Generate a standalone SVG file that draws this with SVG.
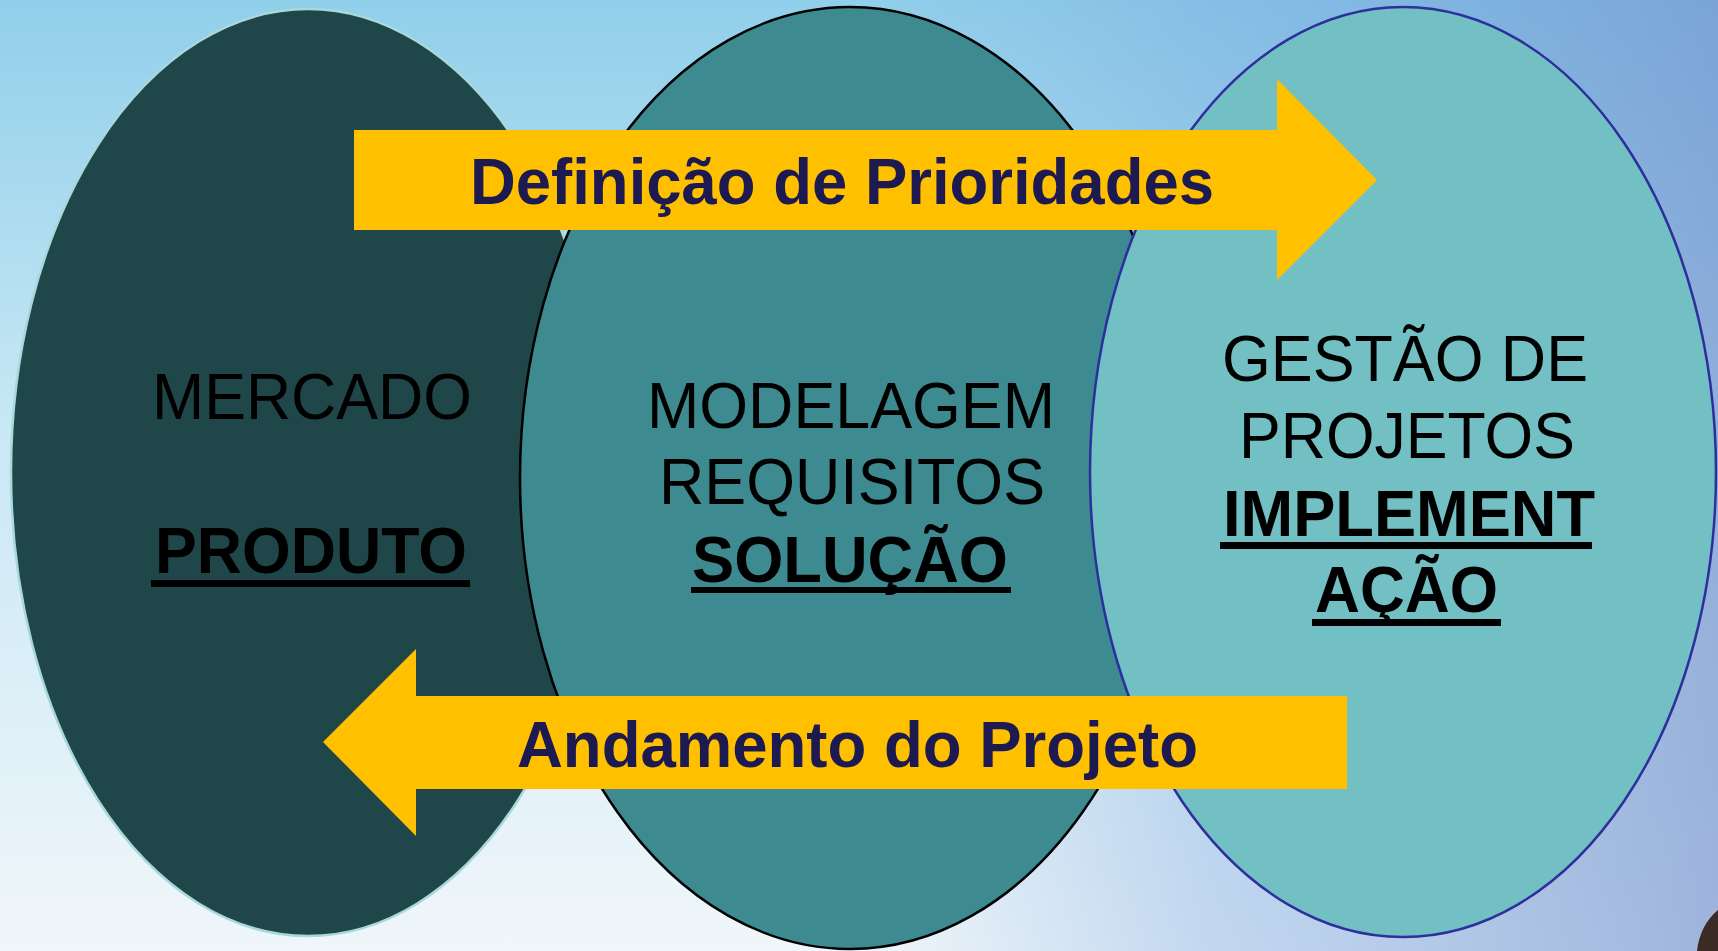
<svg xmlns="http://www.w3.org/2000/svg" width="1718" height="951" viewBox="0 0 1718 951">
  <defs>
    <linearGradient id="bgV" x1="0" y1="0" x2="0" y2="1">
      <stop offset="0" stop-color="#90cfea"/>
      <stop offset="0.45" stop-color="#c9e8f5"/>
      <stop offset="1" stop-color="#f0f6fa"/>
    </linearGradient>
    <linearGradient id="bgH" x1="0" y1="0" x2="1" y2="0">
      <stop offset="0" stop-color="#ffffff" stop-opacity="0"/>
      <stop offset="0.5" stop-color="#7aa8de" stop-opacity="0"/>
      <stop offset="0.7" stop-color="#6fa0dc" stop-opacity="0.35"/>
      <stop offset="1" stop-color="#6a88c8" stop-opacity="0.6"/>
    </linearGradient>
    <style>
      .lbl { font-family: "Liberation Sans", Arial, sans-serif; font-size: 64px; fill: #000; text-anchor: middle; }
      .b { font-weight: bold; }
      .arr { fill: #ffc000; }
      .arrtxt { font-family: "Liberation Sans", Arial, sans-serif; font-size: 65px; font-weight: bold; fill: #1c1a50; text-anchor: middle; }
      .ul { fill: #000; }
    </style>
  </defs>

  <rect width="1718" height="951" fill="url(#bgV)"/>
  <rect width="1718" height="951" fill="url(#bgH)"/>
  <path d="M1718,910 Q1700,925 1697,951 L1718,951 Z" fill="#3a2b24"/>

  <g id="node-mercado">
    <ellipse cx="308" cy="472.5" rx="297" ry="463.5" fill="#1f4649" stroke="#a9d8dc" stroke-width="2.5"/>
    <text class="lbl" x="312" y="419" textLength="320" lengthAdjust="spacingAndGlyphs">MERCADO</text>
    <text class="lbl b" x="311" y="573" textLength="312" lengthAdjust="spacingAndGlyphs">PRODUTO</text>
    <rect class="ul" x="151" y="580" width="319" height="7"/>
  </g>

  <g id="node-modelagem">
    <ellipse cx="850" cy="478" rx="330" ry="471" fill="#3d8a90" stroke="#000" stroke-width="2.5"/>
    <text class="lbl" x="851" y="428" textLength="408" lengthAdjust="spacingAndGlyphs">MODELAGEM</text>
    <text class="lbl" x="852" y="504" textLength="386" lengthAdjust="spacingAndGlyphs">REQUISITOS</text>
    <text class="lbl b" x="850" y="582" textLength="316" lengthAdjust="spacingAndGlyphs">SOLUÇÃO</text>
    <rect class="ul" x="691" y="587" width="320" height="6"/>
  </g>

  <g id="node-gestao">
    <ellipse cx="1403" cy="472" rx="313" ry="465" fill="#72bfc4" stroke="#2e2f9c" stroke-width="2.5"/>
    <text class="lbl" x="1405" y="381" textLength="366" lengthAdjust="spacingAndGlyphs">GESTÃO DE</text>
    <text class="lbl" x="1407" y="458" textLength="336" lengthAdjust="spacingAndGlyphs">PROJETOS</text>
    <text class="lbl b" x="1409" y="536" textLength="372" lengthAdjust="spacingAndGlyphs">IMPLEMENT</text>
    <rect class="ul" x="1220" y="542" width="372" height="7"/>
    <text class="lbl b" x="1406.5" y="612" textLength="183" lengthAdjust="spacingAndGlyphs">AÇÃO</text>
    <rect class="ul" x="1312" y="619" width="189" height="7"/>
  </g>

  <g id="connectors">
    <g id="arrow-definicao">
      <path class="arr" d="M354,130 H1277 V79 L1377,180 L1277,280 V230 H354 Z"/>
      <text class="arrtxt" x="842" y="204" textLength="744" lengthAdjust="spacingAndGlyphs">Definição de Prioridades</text>
    </g>
    <g id="arrow-andamento">
      <path class="arr" d="M323,742 L416,649 V696 H1347 V789 H416 V836 Z"/>
      <text class="arrtxt" x="857.5" y="767" textLength="681" lengthAdjust="spacingAndGlyphs">Andamento do Projeto</text>
    </g>
  </g>
</svg>
